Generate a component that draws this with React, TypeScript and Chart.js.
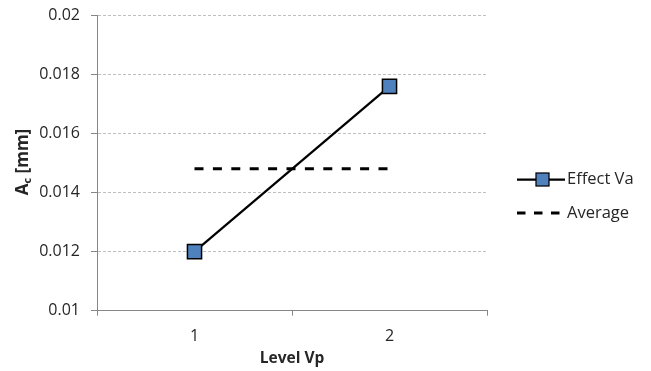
import React, { useEffect, useRef } from "react";
import { Chart, registerables } from "chart.js";

Chart.register(...registerables);

const categories = ["1", "2"];
const effectVa = [0.012, 0.0176];
const averageValues = [0.01481, 0.01481];
const yTicks = [0.01, 0.012, 0.014, 0.016, 0.018, 0.02];
const yTickLabels = ["0.01", "0.012", "0.014", "0.016", "0.018", "0.02"];
const seriesLabels = ["Effect Va", "Average"];
const xTitle = "Level Vp";
const yTitleMain = "A";
const yTitleSub = "c";
const yTitleRest = " [mm]";

const FONT = "'Open Sans', 'Noto Sans', sans-serif";
const TEXT = "#262626";

const titlesAndLegend = {
  id: "titlesAndLegend",
  afterDraw(chart: any) {
    const ctx = chart.ctx as CanvasRenderingContext2D;
    const area = chart.chartArea;
    ctx.save();
    // Y title with subscript
    ctx.fillStyle = TEXT;
    ctx.textBaseline = "alphabetic";
    const bigFont = `bold 17px ${FONT}`;
    const smallFont = `bold 11px ${FONT}`;
    ctx.font = bigFont;
    const wA = ctx.measureText(yTitleMain).width;
    const wR = ctx.measureText(yTitleRest).width;
    ctx.font = smallFont;
    const wC = ctx.measureText(yTitleSub).width;
    const total = wA + wC + wR;
    const cy = 162;
    ctx.translate(27.5, cy);
    ctx.rotate(-Math.PI / 2);
    ctx.textAlign = "left";
    let x = -total / 2;
    ctx.font = bigFont;
    ctx.fillText(yTitleMain, x, 0);
    x += wA;
    ctx.font = smallFont;
    ctx.fillText(yTitleSub, x, 3);
    x += wC;
    ctx.font = bigFont;
    ctx.fillText(yTitleRest, x, 0);
    ctx.restore();

    // X title
    ctx.save();
    ctx.fillStyle = TEXT;
    ctx.font = `bold 15.5px ${FONT}`;
    ctx.textAlign = "center";
    ctx.textBaseline = "alphabetic";
    ctx.fillText(xTitle, (area.left + area.right) / 2, 363);
    ctx.restore();

    // Legend
    const ds = chart.data.datasets;
    const lx1 = 517;
    const lx2 = 565;
    const rows = [179.5, 213];
    ds.forEach((d: any, i: number) => {
      const y = rows[i];
      ctx.save();
      ctx.strokeStyle = d.borderColor;
      ctx.lineWidth = d.borderWidth;
      ctx.setLineDash(d.borderDash ? [8.5, 8.5] : []);
      ctx.beginPath();
      ctx.moveTo(lx1, y);
      ctx.lineTo(d.borderDash ? 560 : lx2, y);
      ctx.stroke();
      ctx.setLineDash([]);
      if (d.pointRadius > 0) {
        const s = 13;
        const cx = 542.5;
        ctx.fillStyle = d.pointBackgroundColor;
        ctx.fillRect(cx - s / 2, y - s / 2, s, s);
        ctx.lineWidth = 1.25;
        ctx.strokeStyle = d.pointBorderColor;
        ctx.strokeRect(cx - s / 2, y - s / 2, s, s);
      }
      ctx.fillStyle = TEXT;
      ctx.font = `16.5px ${FONT}`;
      ctx.textAlign = "left";
      ctx.textBaseline = "middle";
      ctx.fillText(d.label, 567, y);
      ctx.restore();
    });
  },
};

export default function App() {
  const ref = useRef<HTMLCanvasElement>(null);
  useEffect(() => {
    if (!ref.current) return;
    const chart = new Chart(ref.current, {
      type: "line",
      data: {
        labels: categories,
        datasets: [
          {
            label: seriesLabels[0],
            data: effectVa,
            borderColor: "#000000",
            borderWidth: 2.25,
            pointStyle: "rect",
            pointRadius: 10,
            pointBackgroundColor: "#4F81BD",
            pointBorderColor: "#000000",
            pointBorderWidth: 1.5,
            order: 0,
          } as any,
          {
            label: seriesLabels[1],
            data: averageValues,
            borderColor: "#000000",
            borderWidth: 3,
            borderDash: [9, 9.4],
            pointRadius: 0,
            order: 1,
          } as any,
        ],
      },
      options: {
        animation: false,
        responsive: false,
        layout: { padding: { left: 0, right: 164, top: 15.5, bottom: 0 } },
        plugins: { legend: { display: false }, tooltip: { enabled: false } },
        scales: {
          x: {
            type: "category",
            offset: true,
            grid: {
              offset: true,
              drawOnChartArea: false,
              drawTicks: true,
              tickLength: 5,
              color: "#868686",
            },
            border: { display: true, color: "#868686", width: 1 },
            ticks: {
              color: TEXT,
              font: { family: FONT, size: 16 },
              padding: 11,
            },
            afterFit: (s: any) => {
              s.height = 60.3;
              s.paddingLeft = 0;
              s.paddingRight = 0;
            },
          },
          y: {
            min: 0.01,
            max: 0.02,
            afterBuildTicks: (s: any) => {
              s.ticks = yTicks.map((v) => ({ value: v }));
            },
            grid: {
              color: "#BFBFBF",
              lineWidth: 1,
              tickLength: 6,
              tickColor: "#868686",
            },
            border: { display: true, color: "#868686", width: 1, dash: [3, 2] },
            ticks: {
              color: TEXT,
              font: { family: FONT, size: 16 },
              padding: 11,
              callback: (v: any) => {
                const i = yTicks.findIndex((t) => Math.abs(t - v) < 1e-9);
                return i >= 0 ? yTickLabels[i] : "";
              },
            },
            afterFit: (s: any) => {
              s.width = 97;
              s.paddingTop = 0;
              s.paddingBottom = 0;
            },
          },
        },
      },
      plugins: [titlesAndLegend],
    });
    return () => chart.destroy();
  }, []);
  return (
    <div style={{ position: "absolute", left: 0, top: 0, width: 651, height: 371, background: "#fff" }}>
      <canvas ref={ref} width={651} height={371} />
    </div>
  );
}
